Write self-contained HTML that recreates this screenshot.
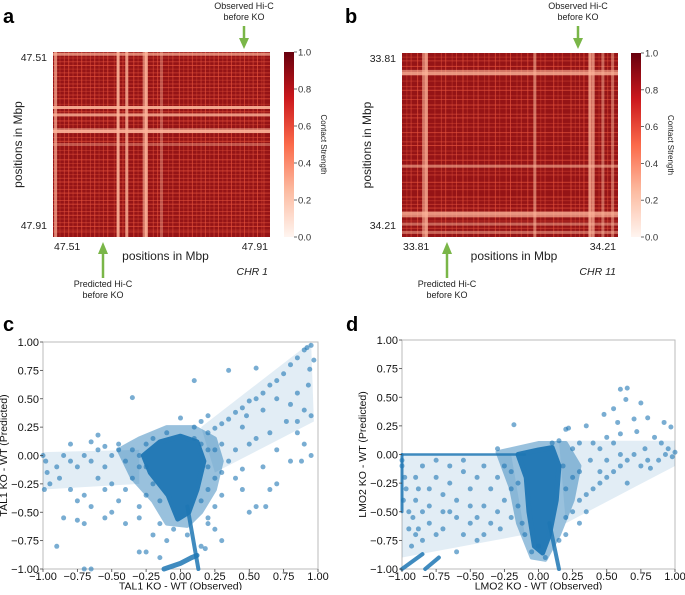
<!DOCTYPE html>
<html><head><meta charset="utf-8"><style>
body{margin:0;background:#fff;width:685px;height:590px;overflow:hidden}
svg{font-family:"Liberation Sans","DejaVu Sans",sans-serif}
</style></head><body>
<svg id="fig" width="685" height="590" viewBox="0 0 685 590">
<defs>
<linearGradient id="reds" x1="0" y1="1" x2="0" y2="0">
<stop offset="0" stop-color="#fff5f0"/><stop offset="0.25" stop-color="#fcbba1"/><stop offset="0.5" stop-color="#fb6a4a"/><stop offset="0.75" stop-color="#cb181d"/><stop offset="1" stop-color="#67000d"/>
</linearGradient>
</defs>
<g font-weight="bold" font-size="20" fill="#000">
<text x="3" y="23">a</text>
<text x="345" y="23">b</text>
<text x="3" y="331">c</text>
<text x="346" y="331">d</text>
</g>
<g id="hmA"></g>
<g id="hmB"></g>
<g id="scC"></g>
<g id="scD"></g>
</svg>
<script>
// ---- heatmap data (stripe positions as fraction of window, strength) ----
const stripesA = [0.012,0.30,0.34,0.42,0.43,0.50];
const stripeStrengthA = [0.7,0.9,0.8,0.6,0.9,0.4];
const faintA = [0.03,0.05,0.07,0.09,0.11,0.13,0.15,0.17,0.19,0.21,0.23,0.25,0.28,0.32,0.37,0.39,0.46,0.48,0.53,0.55,0.58,0.6,0.62,0.64,0.66,0.68,0.7,0.72,0.74,0.76,0.78,0.8,0.82,0.84,0.86,0.88,0.9,0.92,0.94,0.96,0.97];
const stripesB = [0.10,0.113,0.615,0.87,0.885,0.93,0.975];
const stripeStrengthB = [0.6,0.8,0.6,0.8,0.7,0.5,0.5];
const faintB = [0.02,0.04,0.07,0.15,0.18,0.2,0.23,0.25,0.28,0.3,0.33,0.35,0.38,0.4,0.43,0.45,0.48,0.5,0.53,0.55,0.58,0.64,0.66,0.7,0.72,0.74,0.78,0.8,0.82,0.84,0.91,0.95];
const ticksA = ["47.51","47.91"];
const ticksB = ["33.81","34.21"];
const cbTicks = [0,0.2,0.4,0.6,0.8,1.0];

// ---- scatter data ----
const ptsC = [[0.95,0.97],[0.92,0.95],[0.9,0.93],[0.97,0.84],[0.85,0.86],[0.8,0.8],[0.75,0.72],[0.7,0.66],[0.65,0.62],[0.6,0.55],[0.55,0.5],[0.5,0.48],[0.45,0.42],[0.4,0.38],[0.35,0.32],[0.3,0.28],[0.25,0.24],[0.2,0.2],[0.48,0.35],[0.6,0.4],[0.7,0.5],[0.8,0.45],[0.9,0.4],[0.95,0.35],[0.93,0.62],[0.94,0.76],[0.85,0.2],[0.9,0.1],[0.88,-0.05],[0.95,0.0],[0.8,-0.05],[0.7,0.05],[0.65,0.2],[0.55,0.15],[0.5,0.1],[0.45,0.25],[0.4,0.05],[0.35,-0.05],[0.3,0.1],[0.25,0.05],[0.6,-0.1],[0.7,-0.25],[0.55,-0.45],[0.5,-0.5],[0.45,-0.3],[0.4,-0.2],[0.3,-0.35],[0.25,-0.45],[0.2,-0.55],[0.55,0.77],[0.35,0.75],[0.1,0.66],[-0.35,0.51],[0.0,0.33],[0.2,0.35],[0.15,0.3],[0.77,0.3],[0.85,0.55],[0.62,-0.45],[0.65,-0.3],[0.45,-0.12],[0.85,0.3],
[-1,0.0],[-0.98,-0.05],[-0.97,-0.15],[-0.95,-0.25],[-0.99,-0.3],[-0.9,-0.1],[-0.85,0.0],[-0.8,-0.05],[-0.75,-0.1],[-0.7,0.0],[-0.65,-0.05],[-0.6,0.05],[-0.55,-0.1],[-0.5,0.0],[-0.45,0.05],[-0.4,-0.05],[-0.35,0.05],[-0.3,0.0],[-0.88,-0.2],[-0.8,-0.3],[-0.75,-0.4],[-0.7,-0.35],[-0.65,-0.45],[-0.6,-0.2],[-0.55,-0.3],[-0.5,-0.25],[-0.45,-0.4],[-0.4,-0.3],[-0.35,-0.2],[-0.3,-0.45],[-0.25,-0.35],[-0.85,-0.55],[-0.75,-0.57],[-0.7,-0.6],[-0.55,-0.55],[-0.5,-0.5],[-0.4,-0.6],[-0.3,-0.55],[-0.2,-0.7],[-0.15,-0.6],[-0.9,-0.8],[-0.65,-1.0],[-0.7,-1.0],[-0.6,0.18],[-0.65,0.12],[-0.8,0.1],[-0.55,0.08],[-0.45,0.1],[-0.25,-0.85],[-0.3,-0.85],[-0.15,-0.9],[-0.1,-0.75],[0.2,-0.6],[0.25,-0.65],[0.15,-0.8],[0.3,-0.75],[0.05,-0.7],[-0.05,-0.65],[0.18,-0.82],
[-0.25,0.1],[-0.2,0.15],[0.1,0.15],[0.15,0.1],[0.2,0.05],[0.2,-0.1],[0.25,-0.2],[0.2,-0.3],[-0.25,-0.1],[-0.3,-0.1],[-0.2,-0.25],[-0.15,-0.4],[0.15,-0.4],[0.1,0.25],[-0.1,0.2],[0.3,-0.15]];
const coreC = [[-0.27,0.0],[-0.15,0.12],[0.0,0.17],[0.12,0.12],[0.17,-0.05],[0.12,-0.3],[0.06,-0.5],[-0.02,-0.56],[-0.09,-0.35],[-0.22,-0.15]];
const haloC = [[-0.45,0.05],[-0.3,0.15],[-0.1,0.25],[0.1,0.25],[0.25,0.15],[0.3,-0.05],[0.25,-0.3],[0.15,-0.5],[0.05,-0.62],[-0.1,-0.6],[-0.2,-0.4],[-0.35,-0.2]];
const bandsC = [[[-1,0.03],[-0.3,0.05],[-0.3,-0.25],[-1,-0.3]],[[0.15,0.25],[0.95,1.0],[0.97,0.3],[0.25,-0.15]]];
const streakC = [[0.05,-0.45],[0.13,-1.0]];
const baseC = [[-0.12,-1.0],[0.0,-0.95],[0.08,-0.9],[0.12,-0.88]];

const ptsD = [[-1,-0.05],[-1,-0.1],[-0.98,-0.2],[-0.97,-0.3],[-0.99,-0.4],[-0.95,-0.5],[-0.92,-0.55],[-0.9,-0.7],[-0.88,-0.65],[-0.85,-0.75],[-0.8,-0.6],[-0.75,-0.7],[-0.7,-0.65],[-0.65,-0.5],[-0.6,-0.85],[-0.55,-0.7],[-0.5,-0.6],[-0.45,-0.75],[-0.4,-0.7],[-0.35,-0.6],[-0.3,-0.5],[-0.25,-0.4],[-0.2,-0.3],[-0.9,-0.2],[-0.85,-0.1],[-0.8,-0.3],[-0.75,-0.2],[-0.7,-0.35],[-0.65,-0.25],[-0.6,-0.4],[-0.55,-0.15],[-0.5,-0.3],[-0.45,-0.2],[-0.4,-0.45],[-0.35,-0.3],[-0.3,-0.2],[-0.25,-0.1],[-0.2,-0.15],[-0.15,-0.45],[-0.12,-0.6],[-0.1,-0.7],[-0.15,-0.25],[-0.9,-0.4],[-0.8,-0.45],[-0.7,-0.5],[-0.6,-0.55],[-0.5,-0.45],[-0.45,-0.55],[-0.85,-0.5],[-0.95,-0.65],[-0.93,-0.8],[-0.3,0.05],[-0.18,0.26],[-0.4,-0.1],[-0.55,-0.05],[-0.65,-0.1],[-0.75,-0.05],[-0.88,-0.3],[-0.2,-0.55],[-0.28,-0.65],[-0.05,-0.85],[0.0,-0.8],[0.05,-0.9],
[0.6,0.57],[0.65,0.58],[0.64,0.48],[0.75,0.45],[0.55,0.4],[0.48,0.35],[0.7,0.31],[0.8,0.32],[0.92,0.28],[0.97,0.24],[0.58,0.28],[0.6,0.18],[0.5,0.15],[0.22,0.23],[0.2,0.22],[0.35,0.25],[0.4,0.1],[0.45,0.05],[0.55,0.1],[0.72,0.2],[0.85,0.15],[0.9,0.1],[0.95,0.05],[1.0,0.02],[0.98,-0.02],[0.93,0.0],[0.88,-0.05],[0.8,-0.05],[0.75,-0.1],[0.7,0.0],[0.65,-0.05],[0.6,-0.1],[0.55,-0.15],[0.5,-0.2],[0.45,-0.25],[0.4,-0.3],[0.35,-0.35],[0.3,-0.4],[0.25,-0.5],[0.2,-0.55],[0.5,-0.05],[0.45,-0.15],[0.38,-0.05],[0.3,-0.15],[0.25,-0.2],[0.2,-0.3],[0.18,-0.1],[0.25,0.05],[0.3,0.1],[0.15,0.12],[0.1,0.1],[0.3,-0.6],[0.2,-0.7],[0.15,-0.75],[0.65,-0.25],[0.35,-0.5],[0.78,0.05],[0.82,-0.12],[0.6,0.0]];
const coreD = [[-0.15,0.0],[0.0,0.04],[0.1,0.06],[0.15,-0.1],[0.13,-0.4],[0.08,-0.7],[0.03,-0.86],[-0.03,-0.8],[-0.07,-0.5],[-0.09,-0.2]];
const haloD = [[-0.3,0.02],[0.0,0.1],[0.2,0.1],[0.3,-0.1],[0.25,-0.4],[0.15,-0.7],[0.05,-0.92],[-0.05,-0.9],[-0.15,-0.6],[-0.2,-0.3]];
const bandsD = [[[-1,0],[-0.2,0],[-0.1,-0.7],[-1,-0.9]],[[0.15,0.12],[1,0.12],[1,-0.1],[0.2,-0.6]]];
const streakD = [[0.08,-0.6],[0.15,-1.0]];
const hlineD = [[-1.0,0.0],[-0.1,0.0]];
const vlineD = [[-1.0,0.0],[-1.0,-0.5]];
const diagD1 = [[-1.0,-1.0],[-0.85,-0.87]];
const diagD2 = [[-0.83,-1.0],[-0.73,-0.9]];
const axTicks = [-1.0,-0.75,-0.5,-0.25,0.0,0.25,0.5,0.75,1.0];

const NS="http://www.w3.org/2000/svg";
function mk(parent,tag,attrs,text){const e=document.createElementNS(NS,tag);for(const k in attrs)e.setAttribute(k,attrs[k]);if(text!==undefined)e.textContent=text;parent.appendChild(e);return e;}

function heatmap(g,x0,y0,w,h,stripes,strength,faint,ticks,cbx,arrowTop,arrowBot,chr){
  const base=mk(g,'rect',{x:x0,y:y0,width:w,height:h,fill:'#951416'});
  
  
  faint.forEach((f,i)=>{
    const op=0.35+0.3*(i%3)/2;
    const v=mk(g,'rect',{x:x0+f*w,y:y0,width:1,height:h,fill:'#e8553f',opacity:op});
    
    
    const hz=mk(g,'rect',{x:x0,y:y0+f*h,width:w,height:1,fill:'#e8553f',opacity:op});
    
    
  });
  stripes.forEach((f,i)=>{
    const s=strength[i];
    const v=mk(g,'rect',{x:x0+f*w-1.5,y:y0,width:3,height:h,fill:'#fcb49a',opacity:s});
    
    
    const hz=mk(g,'rect',{x:x0,y:y0+f*h-1.5,width:w,height:3,fill:'#fcb49a',opacity:s});
    
    
  });
  const t1=mk(g,'text',{x:x0-6,y:y0+9,'font-size':10.5,'text-anchor':'end',fill:'#222'},ticks[0]);
  
  const t2=mk(g,'text',{x:x0-6,y:y0+h-8,'font-size':10.5,'text-anchor':'end',fill:'#222'},ticks[1]);
  
  const t3=mk(g,'text',{x:x0+1,y:y0+h+13,'font-size':10.5,fill:'#222'},ticks[0]);
  
  const t4=mk(g,'text',{x:x0+w-2,y:y0+h+13,'font-size':10.5,'text-anchor':'end',fill:'#222'},ticks[1]);
  
  const xl=mk(g,'text',{x:x0+w/2+4,y:y0+h+23,'font-size':12,'text-anchor':'middle',fill:'#222'},'positions in Mbp');
  
  const yl=mk(g,'text',{x:0,y:0,'font-size':12,'text-anchor':'middle',fill:'#222',transform:`translate(${x0-31},${y0+h/2}) rotate(-90)`},'positions in Mbp');
  
  const ch=mk(g,'text',{x:x0+w-2,y:y0+h+38,'font-size':10.5,'font-style':'italic','text-anchor':'end',fill:'#222'},chr);
  
  const cb=mk(g,'rect',{x:cbx,y:y0,width:10,height:h,fill:'url(#reds)'});
  
  cbTicks.forEach(v=>{
    const yy=y0+h-v*h;
    mk(g,'line',{x1:cbx+10,x2:cbx+13,y1:yy,y2:yy,stroke:'#444','stroke-width':0.8});
    const t=mk(g,'text',{x:cbx+14,y:yy+3.5,'font-size':9.5,fill:'#333'},v.toFixed(1));
    
  });
  const cl=mk(g,'text',{x:0,y:0,'font-size':8,'text-anchor':'middle',fill:'#222',transform:`translate(${cbx+37},${y0+h/2}) rotate(90)`},'Contact Strength');
  
  const gr='#7ab648';
  mk(g,'line',{x1:arrowTop,x2:arrowTop,y1:26,y2:40,stroke:gr,'stroke-width':2.5});
  const a1=mk(g,'polygon',{points:`${arrowTop-5},38 ${arrowTop+5},38 ${arrowTop},49`,fill:gr});
  
  const o1=mk(g,'text',{x:arrowTop,y:9,'font-size':9,'text-anchor':'middle',fill:'#222'},'Observed Hi-C');
  
  mk(g,'text',{x:arrowTop,y:20,'font-size':9,'text-anchor':'middle',fill:'#222'},'before KO');
  mk(g,'line',{x1:arrowBot,x2:arrowBot,y1:252,y2:278,stroke:gr,'stroke-width':2.5});
  const a2=mk(g,'polygon',{points:`${arrowBot-5},254 ${arrowBot+5},254 ${arrowBot},242`,fill:gr});
  
  const p1=mk(g,'text',{x:arrowBot,y:287,'font-size':9,'text-anchor':'middle',fill:'#222'},'Predicted Hi-C');
  
  mk(g,'text',{x:arrowBot,y:298,'font-size':9,'text-anchor':'middle',fill:'#222'},'before KO');
}

function scatter(g,x0,x1,yTop,yBot,pts,core,halo,bands,lines,xt,yt){
  const sx=v=>x0+(v+1)/2*(x1-x0);
  const sy=v=>yBot-(v+1)/2*(yBot-yTop);
  const poly=pp=>'M'+pp.map(p=>sx(p[0])+','+sy(p[1])).join('L')+'Z';
  const fr=mk(g,'rect',{x:x0,y:yTop,width:x1-x0,height:yBot-yTop,fill:'none',stroke:'#bbb','stroke-width':1});
  
  const clip=mk(g,'g',{});
  bands.forEach(b=>{
    const bp=mk(clip,'path',{d:poly(b),fill:'#1f77b4',opacity:0.13});
    
  });
  const hp=mk(clip,'path',{d:poly(halo),fill:'#1f77b4',stroke:'#1f77b4','stroke-width':4,'stroke-linejoin':'round',opacity:0.45});
  
  const cp=mk(clip,'path',{d:poly(core),fill:'#1f77b4',stroke:'#1f77b4','stroke-width':5,'stroke-linejoin':'round',opacity:0.95});
  
  lines.forEach(l=>{
    const ln=mk(clip,'path',{d:'M'+l.map(p=>sx(p[0])+','+sy(p[1])).join('L'),fill:'none',stroke:'#1f77b4','stroke-width':l.w||4,'stroke-linecap':'round',opacity:0.85});
    
  });
  pts.forEach(p=>{
    const c=mk(clip,'circle',{cx:sx(p[0]),cy:sy(p[1]),r:2.5,fill:'#1f77b4','fill-opacity':0.6});
    
  });
  axTicks.forEach(v=>{
    mk(g,'line',{x1:sx(v),x2:sx(v),y1:yBot,y2:yBot+3,stroke:'#444','stroke-width':0.8});
    const t=mk(g,'text',{x:sx(v),y:yBot+11,'font-size':11,'text-anchor':'middle',fill:'#111'},(v<0?'\u2212':'')+Math.abs(v).toFixed(2));
    
    mk(g,'line',{x1:x0-3,x2:x0,y1:sy(v),y2:sy(v),stroke:'#444','stroke-width':0.8});
    const u=mk(g,'text',{x:x0-4,y:sy(v)+4,'font-size':11,'text-anchor':'end',fill:'#111'},(v<0?'\u2212':'')+Math.abs(v).toFixed(2));
    
  });
  const xl=mk(g,'text',{x:(x0+x1)/2,y:589.5,'font-size':10.5,'text-anchor':'middle',fill:'#111'},xt);
  
  const yl=mk(g,'text',{x:0,y:0,'font-size':10.5,'text-anchor':'middle',fill:'#111',transform:`translate(${x0-36},${(yTop+yBot)/2}) rotate(-90)`},yt);
  
}

heatmap(document.getElementById('hmA'),53,52,217,185,stripesA,stripeStrengthA,faintA,ticksA,284,244,103,'CHR 1');
heatmap(document.getElementById('hmB'),402,53,216,184,stripesB,stripeStrengthB,faintB,ticksB,631,578,447,'CHR 11');
const baseLine=baseC.slice(); baseLine.w=5;
scatter(document.getElementById('scC'),43,318,342,569,ptsC,coreC,haloC,bandsC,[streakC,baseLine],'TAL1 KO - WT (Observed)','TAL1 KO - WT (Predicted)');
const hl=hlineD.slice(); hl.w=2.5;
const vl=vlineD.slice(); vl.w=3;
scatter(document.getElementById('scD'),402,675,340,569,ptsD,coreD,haloD,bandsD,[streakD,hl,vl,diagD1,diagD2],'LMO2 KO - WT (Observed)','LMO2 KO - WT (Predicted)');
</script>
</body></html>
